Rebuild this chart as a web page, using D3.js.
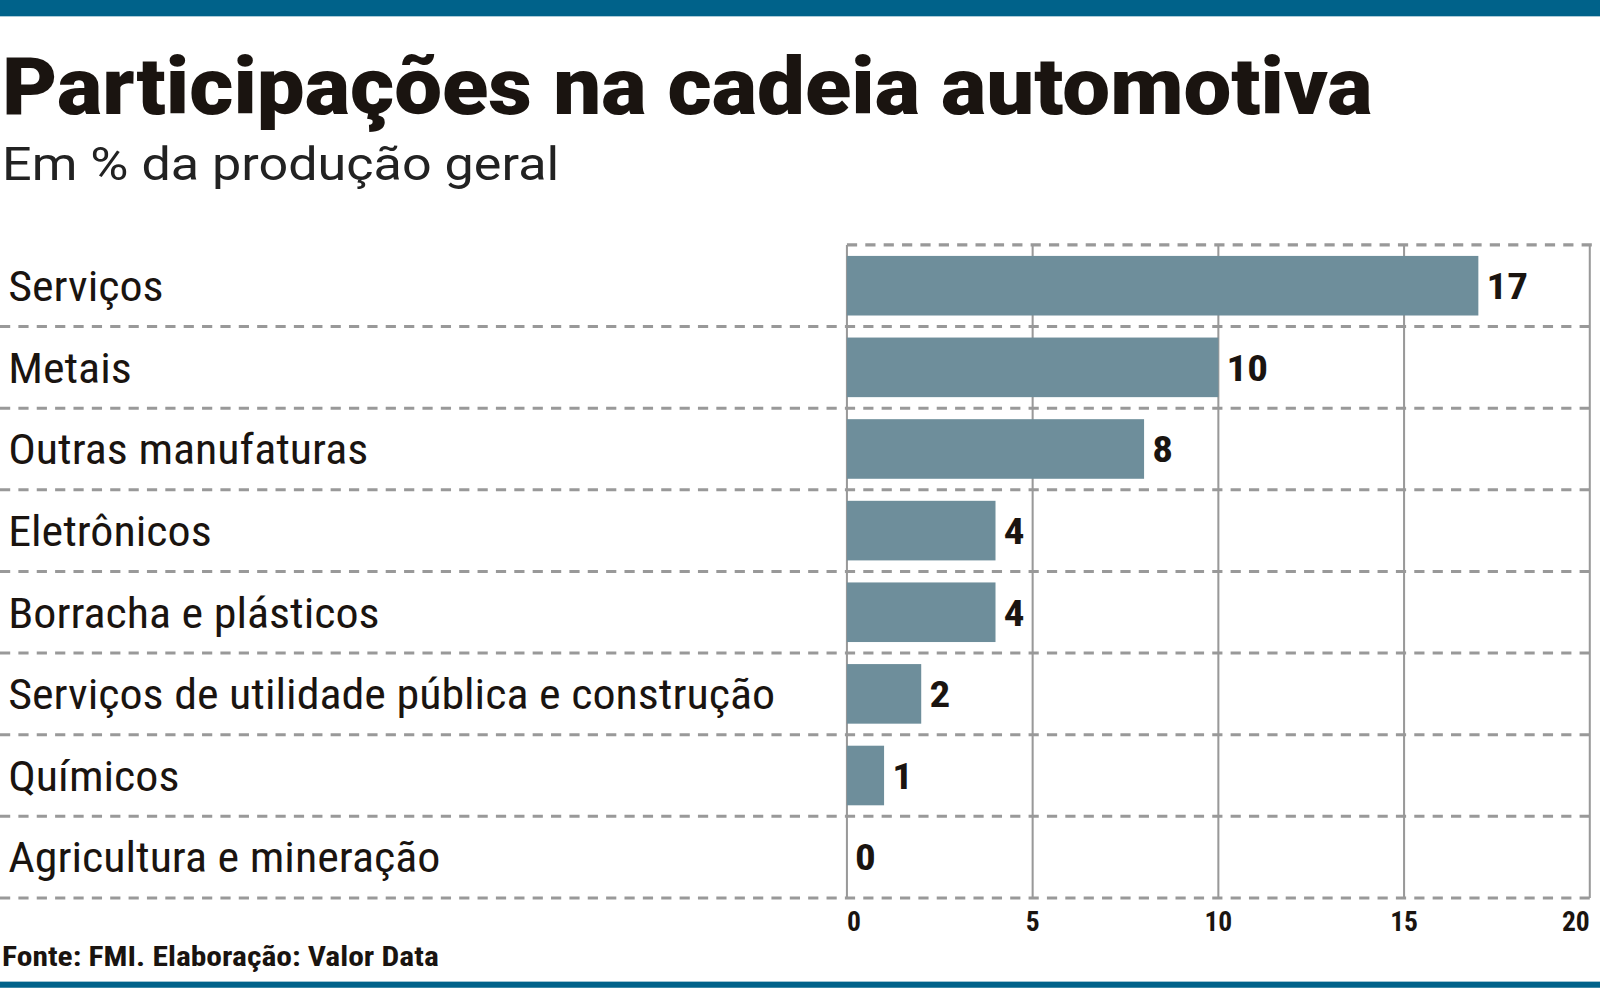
<!DOCTYPE html>
<html><head><meta charset="utf-8">
<script src="https://cdn.jsdelivr.net/npm/d3@7"></script>
<style>body{margin:0;background:#fff}</style>
</head><body>
<svg id="chart" width="1600" height="988"></svg>
<script>
var categories = ["Serviços", "Metais", "Outras manufaturas", "Eletrônicos", "Borracha e plásticos",
    "Serviços de utilidade pública e construção", "Químicos", "Agricultura e mineração"];
var values = [17, 10, 8, 4, 4, 2, 1, 0];
var ticks = [0, 5, 10, 15, 20];

var root = d3.select("#chart");
var svg = root.append("g").attr("transform", "scale(1.0204)");
var narrow = "'Liberation Sans Narrow', 'Roboto Condensed', 'DejaVu Sans Condensed', sans-serif";
var blue = "#00628a";
var ink = "#1a1410";

svg.append("rect").attr("x", 0).attr("y", 0).attr("width", 1570).attr("height", 16).attr("fill", blue);
svg.append("rect").attr("x", 0).attr("y", 962).attr("width", 1570).attr("height", 6).attr("fill", blue);

svg.append("text").attr("x", 2).attr("y", 112)
    .attr("font-family", "Roboto, sans-serif").attr("font-weight", 900).attr("font-size", 78)
    .attr("textLength", 1343).attr("lengthAdjust", "spacingAndGlyphs")
    .attr("fill", ink).text("Participações na cadeia automotiva");
svg.append("text").attr("x", 2).attr("y", 176)
    .attr("font-family", "Roboto, sans-serif").attr("font-size", 46).attr("fill", "#222")
    .attr("textLength", 546).attr("lengthAdjust", "spacingAndGlyphs")
    .text("Em % da produção geral");

// scales
var x = d3.scaleLinear().domain([0, 20]).range([830, 1558]);
var y = d3.scaleBand().domain(categories).range([240, 880]).paddingInner(0.27).paddingOuter(0.135);

// dashed row lines
var lines = d3.range(categories.length + 1).map(function(i){ return 240 + 80 * i; });
svg.selectAll(".hl").data(lines).enter().append("line")
    .attr("x1", function(d, i){ return i === 0 ? 830 : 0; }).attr("x2", 1560)
    .attr("y1", function(d){ return d; }).attr("y2", function(d){ return d; })
    .attr("stroke", "#999").attr("stroke-width", 3).attr("stroke-dasharray", "10,8");

// vertical grid
svg.selectAll(".vl").data(ticks).enter().append("line")
    .attr("x1", function(d){ return x(d); }).attr("x2", function(d){ return x(d); })
    .attr("y1", 240).attr("y2", 880)
    .attr("stroke", "#999").attr("stroke-width", 2);

// bars
svg.selectAll(".bar").data(values).enter().append("rect")
    .attr("x", x(0)).attr("y", function(d, i){ return y(categories[i]); })
    .attr("width", function(d){ return x(d) - x(0); }).attr("height", y.bandwidth())
    .attr("fill", "#6e8e9b");

// value labels
svg.selectAll(".val").data(values).enter().append("text")
    .attr("transform", function(d, i){
        return "translate(" + (x(d) + 8) + "," + (y(categories[i]) + y.bandwidth() / 2 + 13) + ") scale(1.12,1)";
    })
    .attr("font-family", narrow).attr("font-weight", "bold").attr("font-size", 36).attr("fill", ink)
    .text(function(d){ return d; });

// category labels
svg.selectAll(".cat").data(categories).enter().append("text")
    .attr("transform", function(d){
        return "translate(8," + (y(d) + y.bandwidth() / 2 + 15) + ") scale(1.1,1)";
    })
    .attr("font-family", narrow).attr("font-size", 41).attr("fill", ink)
    .text(function(d){ return d; });

// axis labels
svg.selectAll(".tick").data(ticks).enter().append("text")
    .attr("x", function(d){ return x(d); }).attr("y", 912)
    .attr("text-anchor", function(d, i){ return i === 0 ? "start" : (i === ticks.length - 1 ? "end" : "middle"); })
    .attr("font-family", narrow).attr("font-weight", "bold").attr("font-size", 27).attr("fill", ink)
    .text(function(d){ return d; });

svg.append("text").attr("x", 2).attr("y", 947)
    .attr("font-family", narrow).attr("font-weight", "bold").attr("font-size", 27).attr("fill", ink)
    .attr("textLength", 428).attr("lengthAdjust", "spacingAndGlyphs")
    .text("Fonte: FMI. Elaboração: Valor Data");
</script>
</body></html>
